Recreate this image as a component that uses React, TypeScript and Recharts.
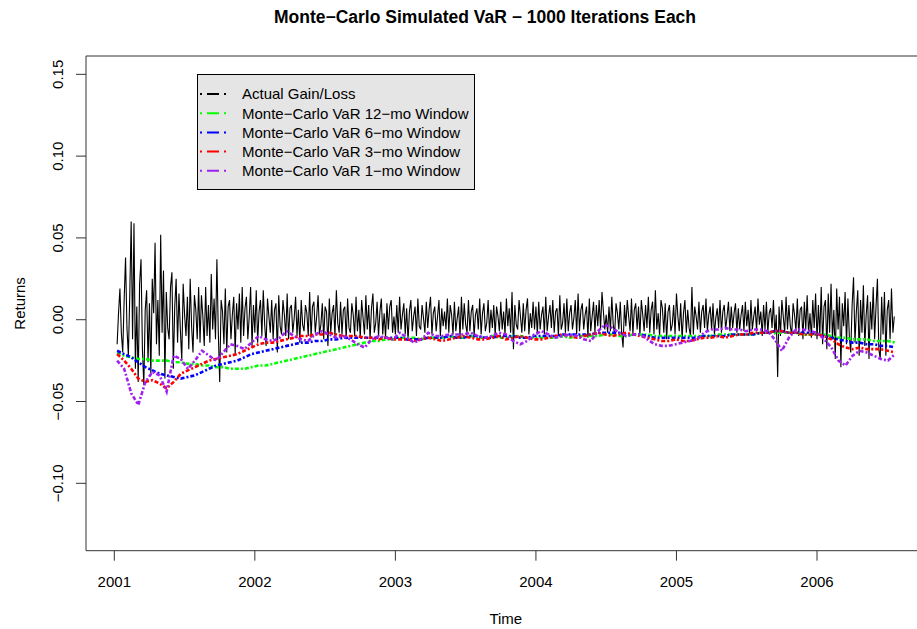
import React from 'react';
import { LineChart, Line, XAxis, YAxis, ReferenceLine, Legend } from 'recharts';

// ---- data (returns in thousandths) ----
const ACTUAL_START = 2001.02;
const ACTUAL_STEP = 0.01;
const actualGainLoss = [
  // 2001
  -15, 4, 19, -8, -20, 12, 38, -5, -22, 15,
  60, -12, 59, -30, 8, -38, 22, 37, -18, -40,
  6, 18, -26, 10, -34, 25, 4, 47, -15, 12,
  -22, 52, -8, 30, -36, 17, -5, -12, 20, 29,
  -30, 8, 25, -14, 16, -6, -25, 22, 3, -10,
  14, -18, 25, -4, -20, 15, 6, -12, 20, -14,
  15, 2, -16, 20, -10, 9, -14, 28, -6, 13,
  -12, 37, -8, -38, 12, 5, -15, 19, -20, 8,
  12, -12, 3, 14, -21, 10, -6, 16, -14, 20,
  -10, 7, 14, -12, 2, 20, -16, 9, -8, 18,
  // 2002
  -14, 5, 12, -10, 18, -3, -16, 13, 2, -8,
  12, -12, 6, 10, -20, 15, -4, -9, 12, 3,
  -10, 16, -12, 7, 9, -8, 1, 14, -10, 6,
  -14, 12, -3, -7, 9, 4, -10, 17, -11, 8,
  11, -8, 2, 15, -9, -3, 10, -12, 8, 5,
  -16, 13, -8, 4, 9, -10, 18, -2, -8, 11,
  -9, 6, 8, -12, 13, -5, -8, 10, 3, -10,
  14, -7, 6, -11, 12, 1, -9, 15, -6, 9,
  -12, 7, 16, -8, -2, 11, -10, 5, 13, -9,
  4, -11, 10, -6, 8, 12, -8, 2, -9, 9,
  // 2003
  -8, 14, -6, 3, 10, -9, 7, -13, 5, 12,
  -7, 2, 8, -10, 13, -4, -6, 9, 1, -8,
  11, -5, 6, 14, -9, 4, 8, -7, 2, 12,
  -10, 7, -4, 5, -6, 13, -8, 9, 3, -9,
  11, -7, 1, 8, -11, 14, -6, 10, -3, -8,
  12, -7, 5, 9, -10, 3, 7, -6, 13, -9,
  4, 10, -7, -2, 12, -8, 6, -5, 9, -10,
  8, 2, -7, 11, -6, 5, -9, 13, -4, 7,
  -8, 17, -18, 9, -3, -6, 12, 2, -8, 10,
  -7, 6, 13, -9, 4, -5, 11, -6, 8, -9,
  // 2004
  11, -6, 3, 8, -9, 14, -7, 2, 9, -5,
  12, -8, 5, 7, -10, 15, -6, -2, 10, -8,
  13, -7, 4, 9, -6, 1, 12, -9, 16, -7,
  6, 10, -6, 3, 8, -11, 13, -7, 2, 11,
  -8, 9, -4, 12, -6, 17, 5, -6, 3, -8,
  8, -7, 14, -3, -9, 10, 4, -6, 11, -8,
  -17, 9, -4, 12, 2, -7, 13, -9, 6, 10,
  -6, 8, -10, 12, 3, -7, 9, -5, 14, -8,
  6, 11, -9, 18, -6, 4, -10, 12, 7, -8,
  10, -12, 5, 9, -7, -3, 9, -9, 16, 2,
  // 2005
  -7, 10, -12, 4, 12, -8, 6, -5, -10, 20,
  -9, 8, 2, -6, 11, -8, 5, 9, -5, 13,
  -7, 3, 8, -6, 10, -9, 1, 7, -5, 12,
  -8, 5, 9, -6, 2, 11, -7, 8, -5, 4,
  10, -8, 7, -6, 3, 9, -7, 11, -4, 6,
  -9, 12, -6, 2, 8, -7, 13, -3, 5, -10,
  9, -6, 11, -8, 4, 7, -5, 12, -9, 3,
  -35, 8, -10, 12, 2, -8, 14, -6, 9, -4,
  -9, 10, 3, -7, 13, -10, 6, 8, -12, 11,
  -6, 15, -9, 4, -11, 12, -5, 16, -12, 9,
  // 2006
  -10, 20, -15, 8, 12, -18, 16, -8, 22, -12,
  6, -24, 19, -6, 14, -29, 10, -4, 17, -15,
  13, -10, -20, 9, 26, -14, 5, 18, -22, 12,
  -8, 21, -16, 3, 15, -24, 11, -6, 20, -12,
  8, 25, -18, -24, 14, -9, 17, -22, 6, 12,
  -12, 19, -8, 2,
];

const VAR_START = 2001.02;
const VAR_END = 2006.555;
const var12mo = [
  -20, -22, -23, -24, -24, -25, -25, -25, -26, -26, -27, -27, -28, -28, -29, -29, -30, -30, -30, -29,
  -28, -28, -27, -26, -25, -24, -23, -22, -21, -20, -19, -18, -17, -16, -15, -14, -13, -13, -12, -12,
  -11, -11, -11, -12, -11, -11, -11, -10, -11, -11, -10, -11, -11, -10, -11, -11, -10, -10, -11, -11,
  -11, -11, -11, -10, -11, -10, -10, -10, -10, -9, -9, -10, -10, -9, -9, -9, -10, -10, -10, -10,
  -10, -10, -10, -10, -10, -9, -9, -9, -9, -9, -9, -8, -8, -8, -8, -8, -8, -9, -9, -9,
  -9, -10, -11, -11, -12, -12, -12, -13, -13, -13, -14,
];
const var6mo = [
  -19, -21, -23, -26, -29, -31, -33, -34, -35, -36, -35, -34, -32, -30, -28, -27, -26, -25, -23, -21,
  -20, -19, -18, -17, -16, -15, -14, -14, -13, -13, -12, -12, -11, -11, -11, -11, -11, -11, -11, -11,
  -11, -12, -12, -12, -11, -11, -11, -10, -11, -11, -10, -10, -11, -11, -10, -10, -10, -11, -11, -10,
  -10, -10, -10, -9, -9, -9, -9, -9, -8, -8, -8, -8, -9, -9, -9, -10, -11, -11, -11, -11,
  -11, -11, -11, -10, -10, -10, -10, -9, -9, -9, -9, -8, -8, -7, -7, -8, -8, -8, -8, -9,
  -10, -11, -12, -13, -14, -14, -15, -15, -16, -16, -17,
];
const var3mo = [
  -21, -25, -30, -36, -38, -37, -39, -42, -38, -33, -31, -29, -27, -25, -24, -23, -22, -21, -19, -17,
  -15, -14, -14, -13, -12, -11, -10, -10, -9, -9, -8, -9, -10, -10, -10, -11, -11, -12, -11, -12,
  -12, -12, -13, -12, -11, -12, -13, -12, -11, -10, -11, -12, -12, -11, -10, -12, -11, -10, -11, -12,
  -12, -11, -10, -9, -10, -11, -10, -9, -8, -9, -10, -9, -8, -9, -10, -11, -12, -13, -13, -12,
  -13, -13, -12, -11, -11, -10, -11, -10, -9, -9, -8, -8, -8, -7, -7, -8, -8, -9, -9, -9,
  -10, -12, -15, -17, -18, -17, -18, -18, -18, -19, -20,
];
const var1mo = [
  -25, -30, -45, -52, -38, -32, -34, -44, -22, -24, -30, -25, -19, -22, -25, -20, -15, -16, -18, -14,
  -10, -12, -13, -11, -7, -10, -12, -13, -9, -7, -9, -11, -10, -12, -15, -17, -12, -10, -11, -12,
  -8, -11, -14, -12, -8, -10, -10, -9, -9, -9, -8, -10, -11, -10, -8, -9, -13, -15, -13, -9,
  -7, -9, -11, -10, -9, -10, -12, -13, -7, -3, -5, -8, -10, -9, -9, -12, -15, -16, -16, -15,
  -14, -13, -12, -8, -6, -6, -5, -6, -6, -7, -6, -6, -7, -12, -19, -11, -6, -6, -7, -8,
  -12, -17, -25, -28, -22, -19, -20, -22, -24, -25, -21,
];

const xTicks = [2001, 2002, 2003, 2004, 2005, 2006];
const yTicks = [-0.1, -0.05, 0, 0.05, 0.1, 0.15];
const X_DOMAIN: [number, number] = [2000.7986, 2006.7827];
const Y_DOMAIN: [number, number] = [-0.1412, 0.1612];

const seriesInfo = [
  { key: 'actual', label: 'Actual Gain/Loss', color: '#000000' },
  { key: 'v12', label: 'Monte\u2212Carlo VaR 12\u2212mo Window', color: '#00FF00' },
  { key: 'v6', label: 'Monte\u2212Carlo VaR 6\u2212mo Window', color: '#0000FF' },
  { key: 'v3', label: 'Monte\u2212Carlo VaR 3\u2212mo Window', color: '#FF0000' },
  { key: 'v1', label: 'Monte\u2212Carlo VaR 1\u2212mo Window', color: '#A020F0' },
];

// ---- build tables ----
const actualData = actualGainLoss.map((v, i) => ({ t: ACTUAL_START + i * ACTUAL_STEP, y: v / 1000 }));
const varStep = (VAR_END - VAR_START) / (var12mo.length - 1);
const toVar = (arr: number[]) => arr.map((v, i) => ({ t: VAR_START + i * varStep, y: v / 1000 }));
const d12 = toVar(var12mo);
const d6 = toVar(var6mo);
const d3 = toVar(var3mo);
const d1 = toVar(var1mo);

const FONT = '"Liberation Sans", Arial, Helvetica, sans-serif';
const fmtY = (v: number) => v.toFixed(2).replace('-', '\u2212');

const YTick = (props: any) => {
  const { x, y, payload } = props;
  return (
    <text x={x} y={y} transform={`rotate(-90, ${x}, ${y})`} textAnchor="middle"
      fontSize={15} fontFamily={FONT} fill="#000">
      {fmtY(payload.value)}
    </text>
  );
};

const XTick = (props: any) => {
  const { x, y, payload } = props;
  return (
    <text x={x} y={y} textAnchor="middle" fontSize={15} fontFamily={FONT} fill="#000">
      {String(payload.value)}
    </text>
  );
};

const LegendBox = () => (
  <svg width={279} height={117} style={{ display: 'block' }}>
    <rect x={0.5} y={0.5} width={277} height={115} fill="#E5E5E5" stroke="#000" strokeWidth={1} />
    {seriesInfo.map((s, i) => {
      const cy = 20 + i * 19.2;
      return (
        <g key={s.key}>
          <line x1={3} x2={30} y1={cy} y2={cy} stroke={s.color} strokeWidth={2} strokeDasharray="2 5 12 5" />
          <text x={45} y={cy + 5.3} fontSize={15} fontFamily={FONT} fill="#000">{s.label}</text>
        </g>
      );
    })}
  </svg>
);

const DASH = '4 2 2 2';

export default function App() {
  return (
    <div style={{ position: 'absolute', left: 0, top: 0, width: 917, height: 629, overflow: 'hidden', background: '#fff' }}>
      <LineChart width={940} height={629} margin={{ top: 56, right: 13, bottom: 48.3, left: 26 }}>
        <text x={485} y={23} textAnchor="middle" fontSize={17.5} fontWeight="bold" fontFamily={FONT} fill="#000">
          {'Monte\u2212Carlo Simulated VaR \u2212 1000 Iterations Each'}
        </text>
        <text x={25} y={303.4} transform="rotate(-90, 25, 303.4)" textAnchor="middle" fontSize={15} fontFamily={FONT} fill="#000">
          Returns
        </text>
        <text x={505.8} y={624.3} textAnchor="middle" fontSize={15} fontFamily={FONT} fill="#000">
          Time
        </text>
        <XAxis type="number" dataKey="t" domain={X_DOMAIN} ticks={xTicks} interval={0}
          allowDataOverflow height={30} tickSize={10} tickMargin={26}
          axisLine={{ stroke: '#333' }} tickLine={{ stroke: '#333' }} tick={<XTick />} />
        <YAxis type="number" dataKey="y" domain={Y_DOMAIN} ticks={yTicks} interval={0}
          allowDataOverflow width={60} tickSize={10} tickMargin={13}
          axisLine={{ stroke: '#333' }} tickLine={{ stroke: '#333' }} tick={<YTick />} />
        <ReferenceLine y={Y_DOMAIN[1]} stroke="#333" strokeWidth={1} />
        <ReferenceLine x={X_DOMAIN[1]} stroke="#333" strokeWidth={1} />
        <Line data={actualData} dataKey="y" type="linear" stroke="#000" strokeWidth={1.1} dot={false} isAnimationActive={false} />
        <Line data={d12} dataKey="y" type="linear" stroke="#00FF00" strokeWidth={2.6} strokeDasharray={DASH} dot={false} isAnimationActive={false} />
        <Line data={d6} dataKey="y" type="linear" stroke="#0000FF" strokeWidth={2.6} strokeDasharray={DASH} dot={false} isAnimationActive={false} />
        <Line data={d3} dataKey="y" type="linear" stroke="#FF0000" strokeWidth={2.6} strokeDasharray={DASH} dot={false} isAnimationActive={false} />
        <Line data={d1} dataKey="y" type="linear" stroke="#A020F0" strokeWidth={2.6} strokeDasharray={DASH} dot={false} isAnimationActive={false} />
        <Legend layout="horizontal" verticalAlign="middle" align="center"
          wrapperStyle={{ left: 197, top: 74, width: 279, height: 117 }}
          content={() => <LegendBox />} />
      </LineChart>
    </div>
  );
}
